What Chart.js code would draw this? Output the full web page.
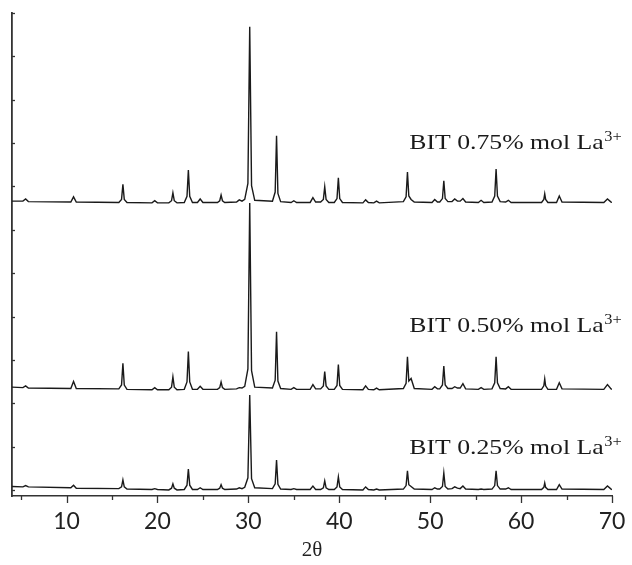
<!DOCTYPE html>
<html>
<head>
<meta charset="utf-8">
<script src="https://cdn.jsdelivr.net/npm/chart.js@4.4.1/dist/chart.umd.min.js"></script>
<style>
  html, body { margin: 0; padding: 0; background: #fff; }
  #wrap { width: 632px; height: 565px; }
</style>
</head>
<body>
<div id="wrap"><canvas id="xrdChart"></canvas></div>
<script>
// 2theta positions shared by the three patterns
const twoTheta = [
    4.0,
    5.2, 5.5, 5.8,
    10.47, 10.77, 11.07,
    15.75, 16.05, 16.2, 16.35, 16.65,
    19.4, 19.7, 20.0,
    21.25, 21.55, 21.7, 21.85, 22.15,
    22.95, 23.25, 23.4, 23.55, 23.85,
    24.4, 24.7, 25.0,
    26.6, 26.85, 27.0, 27.15, 27.4,
    28.7, 29.0, 29.3,
    29.6, 29.95, 30.15, 30.35, 30.7,
    32.65, 32.95, 33.1, 33.25, 33.55,
    34.7, 35.0, 35.3,
    36.8, 37.1, 37.4,
    37.95, 38.25, 38.4, 38.55, 38.85,
    39.45, 39.75, 39.9, 40.05, 40.35,
    42.6, 42.9, 43.2,
    43.8, 44.1, 44.4,
    47.05, 47.35, 47.5, 47.65, 47.9, 48.25,
    50.2, 50.5, 50.8,
    51.05, 51.35, 51.5, 51.65, 51.95,
    52.4, 52.7, 53.0,
    53.3, 53.6, 53.9,
    55.3, 55.6, 55.9,
    56.8, 57.1, 57.25, 57.4, 57.7,
    58.3, 58.6, 58.9,
    62.25, 62.5, 62.6, 62.7, 62.95,
    63.9, 64.2, 64.5,
    69.1, 69.5, 69.9,
    70.0
];

// intensities (a.u.), each pattern on its own zero
const intensity075 = [
    4,
    4, 9, 3,
    2, 14, 2,
    1, 8, 43, 8, 1,
    0, 5, 0,
    0, 5, 23, 5, 0,
    1, 15, 76, 15, 1,
    1, 9, 1,
    1, 5, 18, 5, 1,
    2, 7, 4,
    8, 45, 406, 40, 6,
    4, 25, 155, 22, 3,
    1, 5, 1,
    1, 12, 2,
    2, 8, 37, 8, 1,
    1, 10, 58, 10, 1,
    0, 7, 1,
    0, 4, 0,
    3, 14, 71, 16, 8, 2,
    1, 8, 2,
    2, 10, 51, 10, 3,
    3, 9, 4,
    4, 10, 2,
    1, 6, 1,
    2, 16, 78, 16, 3,
    2, 6, 1,
    1, 8, 21, 8, 1,
    1, 16, 2,
    1, 9, 2,
    1
];

const intensity050 = [
    6,
    5, 9, 4,
    3, 19, 3,
    2, 11, 61, 11, 1,
    0, 5, 0,
    0, 6, 30, 6, 0,
    1, 18, 88, 18, 1,
    1, 8, 1,
    1, 5, 18, 5, 1,
    2, 5, 4,
    8, 48, 431, 44, 6,
    4, 22, 134, 20, 3,
    1, 5, 1,
    1, 12, 2,
    2, 9, 42, 9, 1,
    1, 10, 58, 10, 1,
    0, 9, 1,
    0, 4, 0,
    3, 15, 76, 20, 26, 3,
    1, 7, 2,
    2, 11, 55, 11, 3,
    3, 7, 4,
    4, 14, 2,
    1, 5, 1,
    2, 16, 76, 16, 3,
    2, 7, 1,
    1, 9, 25, 9, 1,
    1, 16, 2,
    1, 12, 2,
    1
];

const intensity025 = [
    8,
    7, 10, 7,
    5, 11, 4,
    3, 7, 23, 7, 2,
    1, 3, 1,
    0, 4, 14, 4, 0,
    1, 11, 48, 11, 1,
    1, 5, 1,
    1, 4, 12, 4, 1,
    2, 5, 3,
    6, 28, 219, 26, 5,
    3, 14, 69, 13, 2,
    1, 3, 1,
    1, 9, 1,
    1, 5, 21, 5, 1,
    1, 7, 30, 7, 1,
    0, 7, 1,
    0, 2, 0,
    2, 10, 44, 12, 8, 2,
    1, 5, 2,
    2, 8, 39, 8, 2,
    3, 7, 4,
    3, 9, 2,
    1, 2, 1,
    2, 10, 44, 10, 2,
    2, 5, 1,
    1, 6, 16, 6, 1,
    1, 12, 2,
    1, 9, 2,
    1
];

// vertical shift of each pattern (a.u.) and its caption
const offsets = [662, 231, 0];
const sampleNames = ['BIT 0.75% mol La', 'BIT 0.50% mol La', 'BIT 0.25% mol La'];
const xTickValues = [10, 20, 30, 40, 50, 60, 70];

// caption anchors in data units: left edge (2theta) and baseline (a.u.)
const captionTheta = 47.7;
const captionLevel = [786, 365, 83];

function toPoints(values, shift) {
    return twoTheta.map((t, i) => ({ x: t, y: values[i] + shift }));
}

const lineColor = '#1a1a1a';
const axisColor = '#333333';

// draws inward y ticks, outward x ticks and the captions
const decorPlugin = {
    id: 'decor',
    afterDraw(chart) {
        const ctx = chart.ctx;
        const xs = chart.scales.x;
        const ys = chart.scales.y;
        const area = chart.chartArea;
        ctx.save();
        ctx.strokeStyle = axisColor;
        ctx.lineWidth = 1.3;

        // x ticks every 5 degrees, longer on the labelled ones
        for (let t = 5; t <= 70; t += 5) {
            const px = Math.round(xs.getPixelForValue(t)) + 0.5;
            const len = (t % 10 === 0) ? 7 : 4;
            ctx.beginPath();
            ctx.moveTo(px, area.bottom);
            ctx.lineTo(px, area.bottom + len);
            ctx.stroke();
        }

        // y ticks pointing into the plot
        for (let v = 0; v <= 1100; v += 100) {
            const py = Math.round(ys.getPixelForValue(v)) + 0.5;
            ctx.beginPath();
            ctx.moveTo(area.left, py);
            ctx.lineTo(area.left + 3, py);
            ctx.stroke();
        }

        // captions with superscript
        ctx.fillStyle = '#1a1a1a';
        ctx.textBaseline = 'alphabetic';
        ctx.textAlign = 'left';
        sampleNames.forEach((name, i) => {
            const px = xs.getPixelForValue(captionTheta);
            const py = ys.getPixelForValue(captionLevel[i]);
            ctx.save();
            ctx.translate(px, py);
            ctx.scale(1.17, 1);
            ctx.font = '22px "Liberation Serif", "Times New Roman", serif';
            ctx.fillText(name, 0, 0);
            const w = ctx.measureText(name).width;
            ctx.font = '14px "Liberation Serif", "Times New Roman", serif';
            ctx.fillText('3+', w + 0.5, -8);
            ctx.restore();
        });
        ctx.restore();
    }
};

function initXrdChart() {
    const ctx = document.getElementById('xrdChart').getContext('2d');
    const datasets = [intensity075, intensity050, intensity025].map((vals, i) => ({
        label: sampleNames[i],
        data: toPoints(vals, offsets[i]),
        borderColor: lineColor,
        borderWidth: 1.4,
        pointRadius: 0,
        fill: false,
        tension: 0
    }));

    new Chart(ctx, {
        type: 'line',
        data: { datasets: datasets },
        options: {
            responsive: true,
            maintainAspectRatio: false,
            animation: false,
            layout: { padding: { left: 12, right: 20, top: 13, bottom: 0 } },
            plugins: {
                legend: { display: false },
                tooltip: { enabled: false }
            },
            scales: {
                x: {
                    type: 'linear',
                    min: 4,
                    max: 70,
                    afterBuildTicks: (axis) => {
                        axis.ticks = xTickValues.map(v => ({ value: v }));
                    },
                    afterFit: (axis) => {
                        axis.height = 69;
                        axis.paddingLeft = 0;
                        axis.paddingRight = 0;
                    },
                    grid: { display: false, drawTicks: false, tickLength: 0 },
                    border: { display: true, color: axisColor, width: 1.5 },
                    ticks: {
                        color: '#222',
                        padding: 18,
                        maxRotation: 0,
                        font: { family: 'Lato, "Open Sans", sans-serif', size: 23, lineHeight: 0.7 }
                    },
                    title: {
                        display: true,
                        text: '2θ',
                        color: '#222',
                        padding: { top: 0, bottom: 2 },
                        font: { family: '"Liberation Serif", "Times New Roman", serif', size: 21 }
                    }
                },
                y: {
                    type: 'linear',
                    min: -14,
                    max: 1100,
                    afterFit: (axis) => {
                        axis.width = 0;
                        axis.paddingTop = 0;
                        axis.paddingBottom = 0;
                    },
                    grid: { display: false, drawTicks: false, tickLength: 0 },
                    border: { display: true, color: axisColor, width: 1.8 },
                    ticks: { display: false }
                }
            }
        },
        plugins: [decorPlugin]
    });
}

document.addEventListener('DOMContentLoaded', initXrdChart);
</script>
</body>
</html>
